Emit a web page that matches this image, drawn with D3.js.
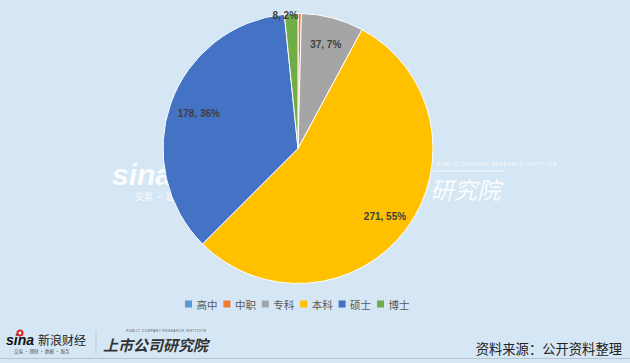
<!DOCTYPE html>
<html><head><meta charset="utf-8">
<script src="https://cdn.jsdelivr.net/npm/d3@7"></script>
<style>
html,body{margin:0;padding:0;background:#D5E6F4;}
svg{display:block;}
</style></head>
<body>
<svg id="chart" width="630" height="363"></svg>
<script>
const categories = ["高中","中职","专科","本科","硕士","博士"];
const values = [0, 2, 37, 271, 178, 8];
const percentLabels = ["0%","0%","7%","55%","36%","2%"];
const colors = ["#5B9BD5","#ED7D31","#A5A5A5","#FFC000","#4472C4","#70AD47"];
const showLabel = [false,false,true,true,true,true];
const labelRadiusFactor = [0.8,0.8,0.8,0.84,0.78,0.985];
const labelDx = [0,0,0,-4,0,-6];
const sourceText = "资料来源：公开资料整理";

const svg = d3.select("#chart");
const W = 630, H = 363;
svg.append("rect").attr("width",W).attr("height",H).attr("fill","#D5E6F4");

const cx = 298, cy = 148.5, R = 135;

// watermark (behind pie)
const wm = svg.append("g").attr("fill","#ffffff").attr("opacity",0.9);
wm.append("text").attr("x",112).attr("y",185).attr("font-family","Liberation Sans, Arial")
  .attr("font-weight","bold").attr("font-style","italic").attr("font-size",30).text("sina");
wm.append("text").attr("x",135).attr("y",200).attr("font-family","Noto Sans CJK SC")
  .attr("font-size",9).text("交易 · 理财 · 数据 · 服务");
wm.append("text").attr("x",175).attr("y",185).attr("font-family","Noto Sans CJK SC")
  .attr("font-size",22).text("新浪财经");
wm.append("text").attr("x",430).attr("y",199).attr("font-family","Noto Sans CJK SC")
  .attr("font-style","italic").attr("font-size",23.5).text("研究院");
wm.append("text").attr("x",437).attr("y",166).attr("font-family","Liberation Sans, Arial")
  .attr("font-size",5).attr("letter-spacing",0.6).text("PUBLIC COMPANY RESEARCH INSTITUTE");
wm.append("line").attr("x1",433).attr("x2",505).attr("y1",171).attr("y2",171).attr("stroke","#fff").attr("stroke-width",1);

const data = categories.map((c,i)=>({cat:c, value:values[i], pct:percentLabels[i], color:colors[i], show:showLabel[i], rf:labelRadiusFactor[i], dx:labelDx[i]}));
const pie = d3.pie().value(d=>d.value).sort(null).startAngle(0).endAngle(2*Math.PI);
const arcs = pie(data);
const arc = d3.arc().innerRadius(0).outerRadius(R);
const g = svg.append("g").attr("transform",`translate(${cx},${cy})`);
g.selectAll("path").data(arcs.filter(a=>a.data.value>0)).join("path")
  .attr("d",arc).attr("fill",d=>d.data.color).attr("stroke","#ffffff").attr("stroke-width",1);

g.selectAll("text.lbl").data(arcs.filter(a=>a.data.show)).join("text")
  .attr("class","lbl")
  .attr("transform",d=>{
    const la = d3.arc().innerRadius(R*d.data.rf).outerRadius(R*d.data.rf);
    const c = la.centroid(d);
    return `translate(${c[0]+d.data.dx},${c[1]})`;
  })
  .attr("text-anchor","middle").attr("dominant-baseline","central")
  .attr("font-family","Liberation Sans, Arial").attr("font-weight","bold").attr("font-size",10)
  .attr("fill","#404040")
  .text(d=>`${d.data.value}, ${d.data.pct}`);

// legend
const legendX = d3.scalePoint().domain(categories).range([185,377]);
const lg = svg.append("g");
const items = lg.selectAll("g").data(data).join("g")
  .attr("transform",d=>`translate(${legendX(d.cat)},304)`);
items.append("rect").attr("x",0).attr("y",-3.5).attr("width",7).attr("height",7).attr("fill",d=>d.color);
items.append("text").attr("x",11.5).attr("y",0).attr("dominant-baseline","central")
  .attr("font-family","Noto Sans CJK SC").attr("font-size",10.5).attr("fill","#595959").text(d=>d.cat);

// footer
const ft = svg.append("g");
ft.append("text").attr("x",6).attr("y",345).attr("font-family","Liberation Sans, Arial")
  .attr("font-weight","bold").attr("font-style","italic").attr("font-size",14).attr("fill","#111").text("sina");
ft.append("circle").attr("cx",20).attr("cy",333).attr("r",3.5).attr("fill","#E0262B");
ft.append("circle").attr("cx",20).attr("cy",333).attr("r",1.4).attr("fill","#fff");
ft.append("text").attr("x",38).attr("y",345).attr("font-family","Noto Sans CJK SC")
  .attr("font-size",12).attr("fill","#222").text("新浪财经");
ft.append("text").attr("x",14).attr("y",353).attr("font-family","Noto Sans CJK SC")
  .attr("font-size",4.5).attr("fill","#555").text("交易 · 理财 · 数据 · 服务");
ft.append("line").attr("x1",96).attr("x2",96).attr("y1",330).attr("y2",354).attr("stroke","#b9c9d6").attr("stroke-width",1);
ft.append("text").attr("x",126).attr("y",332).attr("font-family","Liberation Sans, Arial")
  .attr("font-size",3.2).attr("font-style","italic").attr("fill","#555").attr("letter-spacing",0.5).text("PUBLIC COMPANY RESEARCH INSTITUTE");
ft.append("text").attr("x",103).attr("y",351).attr("font-family","Noto Sans CJK SC")
  .attr("font-weight","bold").attr("font-style","italic").attr("font-size",15).attr("fill","#333").text("上市公司研究院");
ft.append("text").attr("x",622).attr("y",348).attr("text-anchor","end").attr("dominant-baseline","central")
  .attr("font-family","Noto Sans CJK SC").attr("font-size",13.3).attr("fill","#222").text(sourceText);
ft.append("line").attr("x1",0).attr("x2",W).attr("y1",358.5).attr("y2",358.5).attr("stroke","#b7c5d1").attr("stroke-width",1);
</script>
</body></html>
